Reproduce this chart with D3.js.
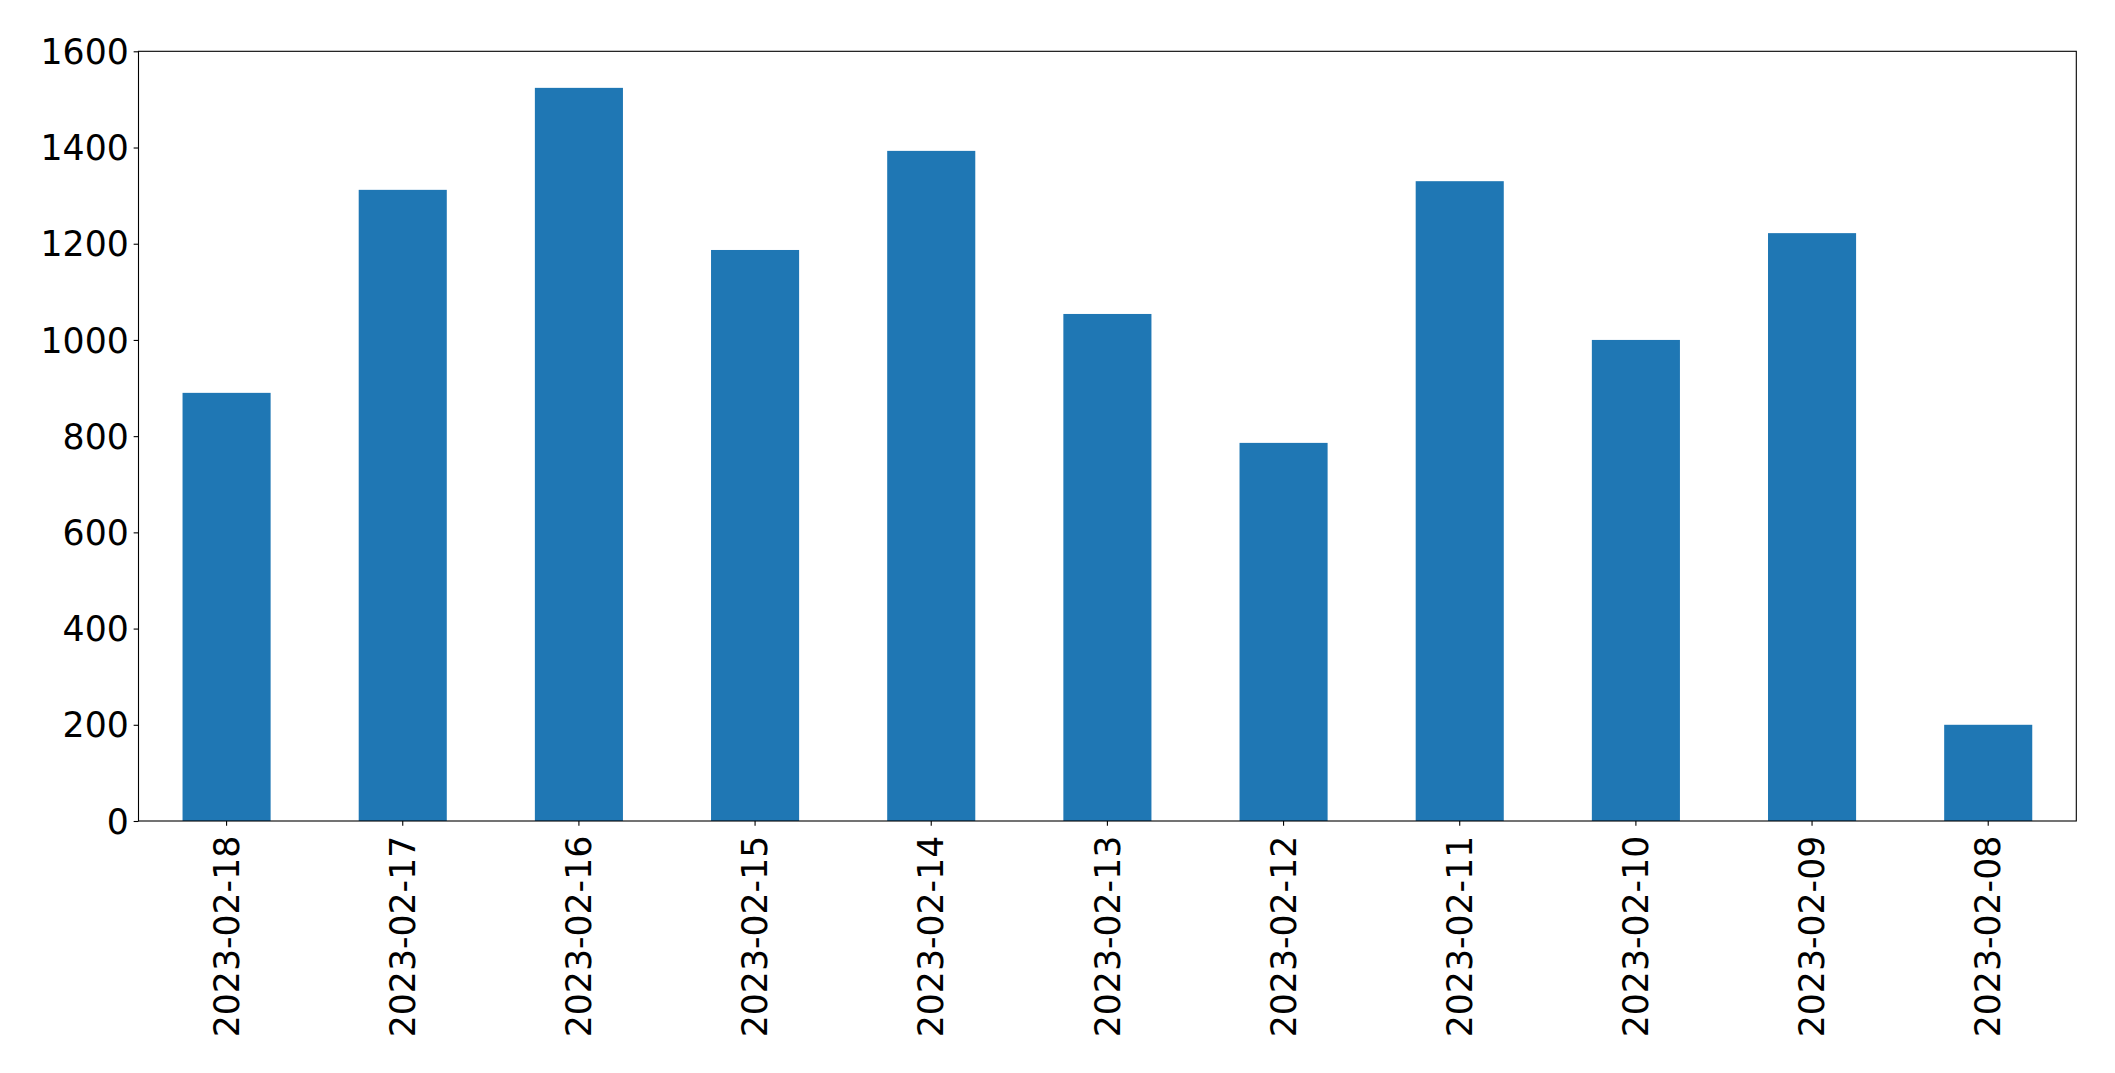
<!DOCTYPE html>
<html>
<head>
<meta charset="utf-8">
<script src="https://cdn.jsdelivr.net/npm/d3@7"></script>
<style>
  html, body { margin: 0; padding: 0; background: #ffffff; }
  svg { display: block; }
  .tick text { font-family: "DejaVu Sans", sans-serif; }
</style>
</head>
<body>
<svg id="chart" width="2115" height="1073"></svg>
<script>
const categories = ["2023-02-18","2023-02-17","2023-02-16","2023-02-15","2023-02-14","2023-02-13","2023-02-12","2023-02-11","2023-02-10","2023-02-09","2023-02-08"];
const values = [890, 1312, 1524, 1187, 1393, 1054, 786, 1330, 1000, 1222, 200];
const yTicks = [0, 200, 400, 600, 800, 1000, 1200, 1400, 1600];

const W = 2115, H = 1073;
const margin = { left: 138.5, top: 51.3, right: W - 2076.3, bottom: H - 821 };
const iw = W - margin.left - margin.right;
const ih = H - margin.top - margin.bottom;

const svg = d3.select("#chart");
const g = svg.append("g").attr("transform", `translate(${margin.left},${margin.top})`);

const x = d3.scaleBand().domain(categories).range([0, iw]).paddingInner(0.5).paddingOuter(0.25);
const y = d3.scaleLinear().domain([0, 1600]).range([ih, 0]);

g.selectAll("rect.bar")
  .data(categories.map((c, i) => ({ c, v: values[i] })))
  .enter().append("rect")
  .attr("class", "bar")
  .attr("x", d => x(d.c))
  .attr("width", x.bandwidth())
  .attr("y", d => y(d.v))
  .attr("height", d => ih - y(d.v))
  .attr("fill", "#1f77b4");

const fs = 34.7;
const yAxis = g.append("g")
  .call(d3.axisLeft(y).tickValues(yTicks).tickFormat(d3.format("d")).tickSize(4.86).tickPadding(4.86));
yAxis.selectAll("text").attr("font-size", fs).attr("fill", "#000").attr("dy", "0.35em");
yAxis.selectAll("line").attr("stroke", "#000").attr("stroke-width", 1.1);
yAxis.select(".domain").remove();

const xAxis = g.append("g").attr("transform", `translate(0,${ih})`)
  .call(d3.axisBottom(x).tickSize(4.86).tickPadding(4.86));
xAxis.selectAll("text")
  .attr("font-size", fs).attr("fill", "#000")
  .attr("transform", "rotate(-90)")
  .attr("text-anchor", "end")
  .attr("x", -(4.86 + 4.86 + 5))
  .attr("y", 0)
  .attr("dy", "0.35em");
xAxis.selectAll("line").attr("stroke", "#000").attr("stroke-width", 1.1);
xAxis.select(".domain").remove();

// frame
g.append("rect")
  .attr("x", 0).attr("y", 0).attr("width", iw).attr("height", ih)
  .attr("fill", "none").attr("stroke", "#000").attr("stroke-width", 1.1);
</script>
</body>
</html>
